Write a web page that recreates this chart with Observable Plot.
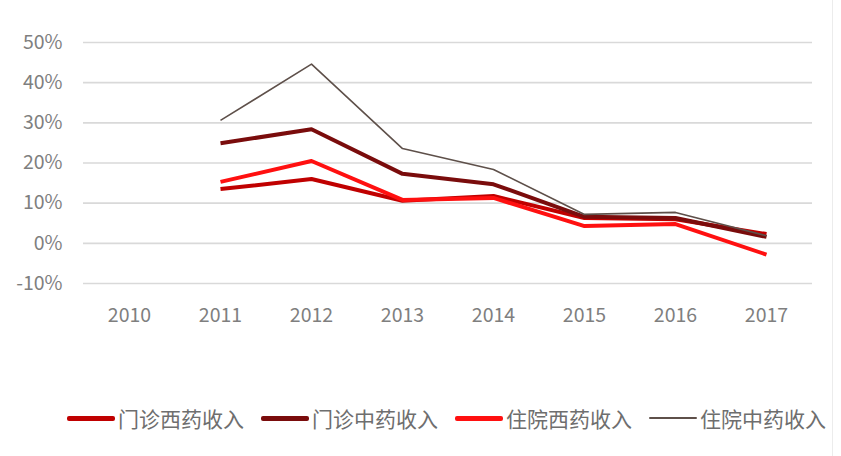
<!DOCTYPE html>
<html><head><meta charset="utf-8">
<script src="https://cdn.jsdelivr.net/npm/d3@7"></script>
<script src="https://cdn.jsdelivr.net/npm/@observablehq/plot@0.6"></script>
<style>
body{margin:0;background:#fff;font-family:"Noto Sans CJK SC","Noto Sans",sans-serif;}
#wrap{position:relative;width:841px;height:456px;overflow:hidden;background:#fff;}
#legend{position:absolute;left:0;top:404px;width:893px;display:flex;justify-content:center;gap:17px;font-size:21px;color:#6e6e6e;line-height:28px;}
.item{display:flex;align-items:center;white-space:nowrap;}
.sw{display:inline-block;width:48px;margin-right:3px;border-radius:2px;}
#border{position:absolute;left:832px;top:0;width:1px;height:456px;background:#ececec;}
</style></head>
<body><div id="wrap"><div id="chart"></div><div id="legend"></div><div id="border"></div></div>
<script>
const categories = ["2010","2011","2012","2013","2014","2015","2016","2017"];
const dataYears = ["2011","2012","2013","2014","2015","2016","2017"];
const seriesNames = ["门诊西药收入","门诊中药收入","住院西药收入","住院中药收入"];
const outWest = [13.5, 16.0, 10.6, 11.8, 6.3, 6.0, 2.3];
const outChinese = [24.9, 28.4, 17.3, 14.7, 6.6, 6.3, 1.6];
const inWest = [15.3, 20.5, 10.8, 11.3, 4.3, 4.8, -2.8];
const inChinese = [30.6, 44.6, 23.6, 18.4, 7.2, 7.7, 1.9];
const yTicks = [-10, 0, 10, 20, 30, 40, 50];

const seriesValues = [outWest, outChinese, inWest, inChinese];
const colors = ["#c00000", "#7a0c0c", "#ff1010", "#5e504a"];
const widths = [4, 4, 4, 1.6];

const rows = seriesValues.map(vals => dataYears.map((y, i) => ({year: y, value: vals[i]})));

const chart = Plot.plot({
  width: 841,
  height: 340,
  marginLeft: 83,
  marginRight: 29,
  marginTop: 42,
  marginBottom: 57,
  style: {fontFamily: '"Noto Sans CJK SC","Noto Sans",sans-serif', fontSize: "19.5px", color: "#7f7f7f", background: "white"},
  x: {type: "point", domain: categories, padding: 0.5},
  y: {domain: [-10, 50]},
  marks: [
    Plot.ruleY(yTicks, {stroke: "#d9d9d9", strokeWidth: 1.6}),
    Plot.axisY(yTicks, {tickSize: 0, tickPadding: 21, tickFormat: d => d + "%", label: null}),
    Plot.axisX({tickSize: 0, tickPadding: 25, label: null}),
    ...rows.map((r, k) => Plot.line(r, {x: "year", y: "value", stroke: colors[k], strokeWidth: widths[k], strokeLinejoin: "round", strokeLinecap: "butt"}))
  ]
});
document.getElementById("chart").appendChild(chart);

const legend = document.getElementById("legend");
seriesNames.forEach((n, k) => {
  const it = document.createElement("div");
  it.className = "item";
  const sw = document.createElement("span");
  sw.className = "sw";
  sw.style.background = colors[k];
  sw.style.height = (k === 3 ? 2 : 5) + "px";
  it.appendChild(sw);
  const t = document.createElement("span");
  t.textContent = n;
  it.appendChild(t);
  legend.appendChild(it);
});
</script></body></html>
